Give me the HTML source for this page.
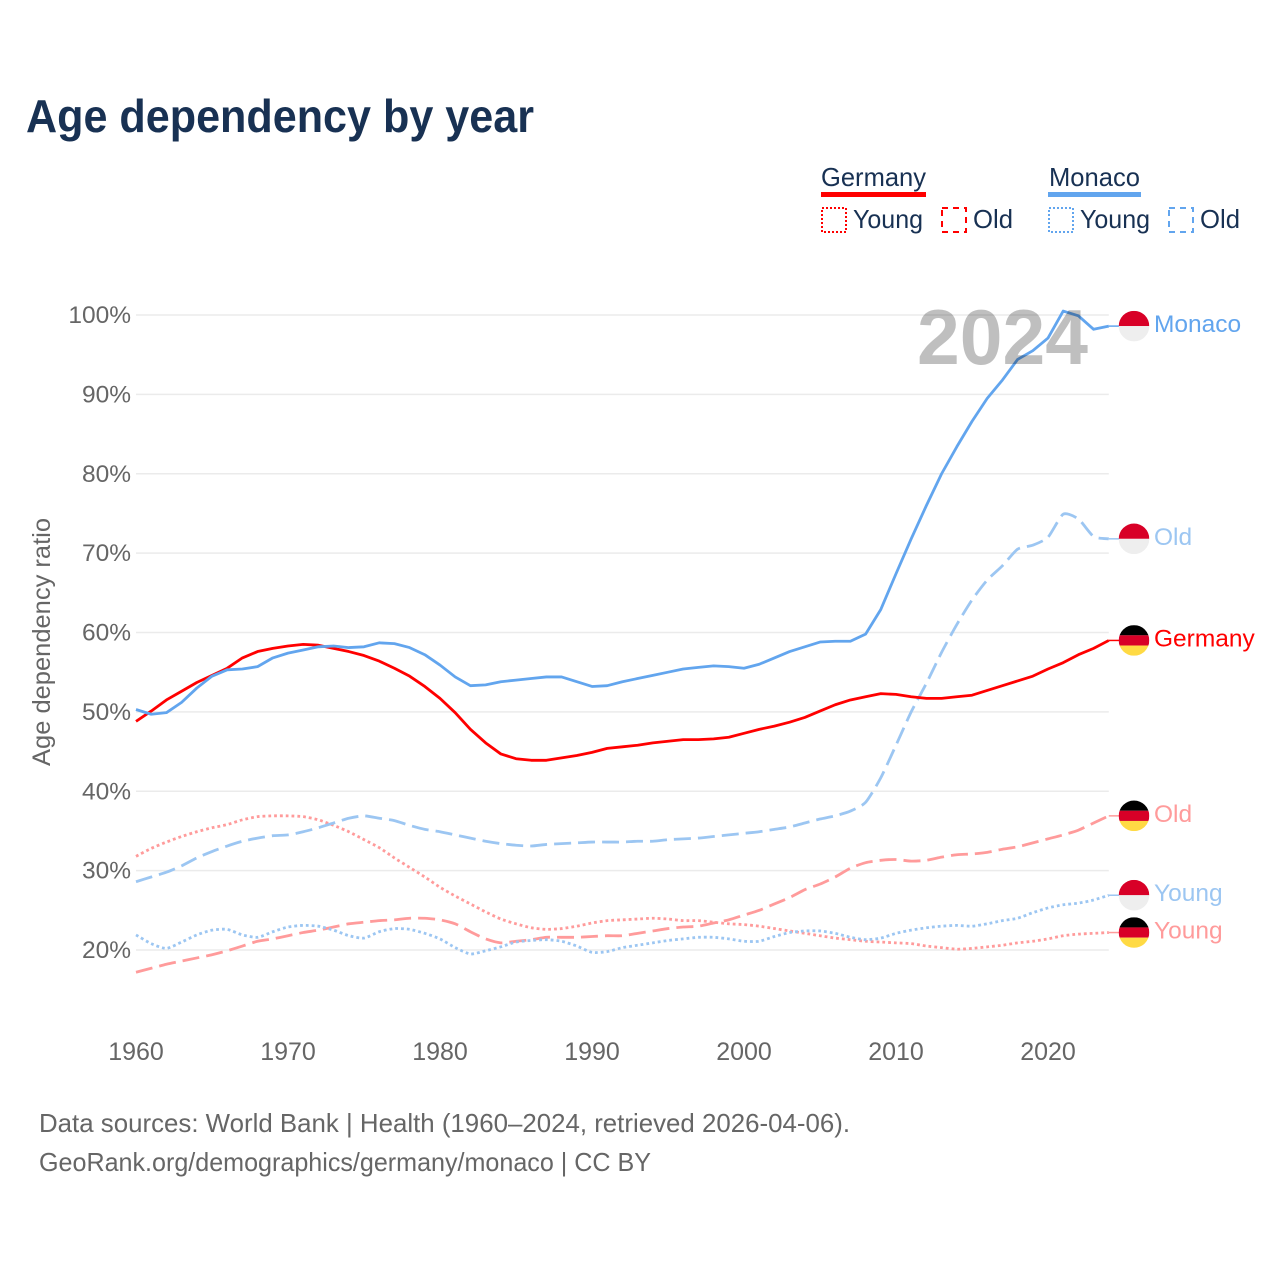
<!DOCTYPE html>
<html lang="en">
<head>
<meta charset="utf-8">
<title>Age dependency by year</title>
<style>
html,body{margin:0;padding:0;background:#fff;}
svg{display:block;font-family:"Liberation Sans",sans-serif;}
</style>
</head>
<body>
<svg id="chart" xmlns="http://www.w3.org/2000/svg" width="1280" height="1280" viewBox="0 0 1280 1280">
  <rect x="0" y="0" width="1280" height="1280" fill="#fff"/>
  <text x="26" y="132" font-size="46" font-weight="700" fill="#183153" textLength="508" lengthAdjust="spacingAndGlyphs">Age dependency by year</text>

  <g>
    <text x="821" y="186" font-size="26" fill="#183153" textLength="105" lengthAdjust="spacingAndGlyphs">Germany</text>
    <rect x="821" y="192" width="105" height="5" fill="#ff0000"/>
    <rect x="822" y="208" width="24" height="24" fill="none" stroke="#ff0000" stroke-width="2" stroke-dasharray="2 2"/>
    <text x="853" y="228" font-size="26" fill="#183153" textLength="70" lengthAdjust="spacingAndGlyphs">Young</text>
    <rect x="942" y="208" width="24" height="24" fill="none" stroke="#ff0000" stroke-width="2" stroke-dasharray="6 5"/>
    <text x="973" y="228" font-size="26" fill="#183153" textLength="40" lengthAdjust="spacingAndGlyphs">Old</text>
    <text x="1049" y="186" font-size="26" fill="#183153" textLength="91" lengthAdjust="spacingAndGlyphs">Monaco</text>
    <rect x="1048" y="192" width="93" height="5" fill="#62a5ee"/>
    <rect x="1049" y="208" width="24" height="24" fill="none" stroke="#62a5ee" stroke-width="2" stroke-dasharray="2 2"/>
    <text x="1080" y="228" font-size="26" fill="#183153" textLength="70" lengthAdjust="spacingAndGlyphs">Young</text>
    <rect x="1169" y="208" width="24" height="24" fill="none" stroke="#62a5ee" stroke-width="2" stroke-dasharray="6 5"/>
    <text x="1200" y="228" font-size="26" fill="#183153" textLength="40" lengthAdjust="spacingAndGlyphs">Old</text>
  </g>

  <g id="grid"></g>
  <g id="yticks"></g>
  <g id="xticks"></g>
  <text transform="translate(50,642) rotate(-90)" text-anchor="middle" font-size="25" fill="#666" textLength="248" lengthAdjust="spacingAndGlyphs">Age dependency ratio</text>
  <g id="series"></g>
  <g id="ends"></g>
  <text x="917" y="364" font-size="78" font-weight="700" fill="#000" fill-opacity="0.25" textLength="171" lengthAdjust="spacingAndGlyphs">2024</text>

  <text x="39" y="1132" font-size="26" fill="#666" textLength="811" lengthAdjust="spacingAndGlyphs">Data sources: World Bank | Health (1960–2024, retrieved 2026-04-06).</text>
  <text x="39" y="1171" font-size="26" fill="#666" textLength="612" lengthAdjust="spacingAndGlyphs">GeoRank.org/demographics/germany/monaco | CC BY</text>
</svg>

<script>
const startYear = 1960;
const yTickValues = [20, 30, 40, 50, 60, 70, 80, 90, 100];
const xTickYears = [1960, 1970, 1980, 1990, 2000, 2010, 2020];

const germanyTotal = [48.8,50.1,51.5,52.6,53.7,54.6,55.5,56.8,57.6,58.0,58.3,58.5,58.4,58.0,57.6,57.1,56.4,55.5,54.5,53.2,51.7,49.9,47.8,46.1,44.7,44.1,43.9,43.9,44.2,44.5,44.9,45.4,45.6,45.8,46.1,46.3,46.5,46.5,46.6,46.8,47.3,47.8,48.2,48.7,49.3,50.1,50.9,51.5,51.9,52.3,52.2,51.9,51.7,51.7,51.9,52.1,52.7,53.3,53.9,54.5,55.4,56.2,57.2,58.0,59.0];
const germanyYoung = [31.8,32.8,33.6,34.3,34.9,35.4,35.8,36.4,36.8,36.9,36.9,36.8,36.4,35.7,34.9,33.9,32.9,31.6,30.4,29.2,27.9,26.8,25.8,24.8,23.9,23.3,22.8,22.6,22.7,23.0,23.4,23.7,23.8,23.9,24.0,23.9,23.7,23.7,23.5,23.3,23.2,23.0,22.7,22.4,22.1,21.8,21.5,21.3,21.1,21.0,20.9,20.8,20.5,20.3,20.1,20.2,20.4,20.6,20.9,21.1,21.4,21.8,22.0,22.1,22.2];
const germanyOld = [17.2,17.7,18.2,18.6,19.0,19.4,19.9,20.5,21.1,21.4,21.8,22.2,22.5,22.9,23.3,23.5,23.7,23.8,24.0,24.0,23.8,23.3,22.3,21.4,20.9,21.1,21.3,21.6,21.6,21.6,21.7,21.8,21.8,22.1,22.4,22.7,22.9,23.0,23.4,23.8,24.4,25.0,25.8,26.6,27.6,28.3,29.2,30.3,31.0,31.3,31.4,31.2,31.3,31.7,32.0,32.1,32.3,32.7,33.0,33.5,34.0,34.5,35.1,36.0,36.9];
const monacoTotal = [50.3,49.7,49.9,51.2,53.0,54.5,55.3,55.4,55.7,56.8,57.4,57.8,58.2,58.3,58.1,58.2,58.7,58.6,58.1,57.2,55.9,54.4,53.3,53.4,53.8,54.0,54.2,54.4,54.4,53.8,53.2,53.3,53.8,54.2,54.6,55.0,55.4,55.6,55.8,55.7,55.5,56.0,56.8,57.6,58.2,58.8,58.9,58.9,59.8,62.9,67.4,71.8,76.0,80.0,83.4,86.6,89.5,91.8,94.4,95.5,97.1,100.5,99.9,98.2,98.6];
const monacoYoung = [21.9,20.8,20.2,21.0,21.9,22.5,22.6,21.9,21.6,22.3,22.9,23.1,23.0,22.5,21.8,21.5,22.3,22.7,22.6,22.1,21.4,20.3,19.5,19.9,20.4,21.0,21.2,21.3,21.1,20.5,19.7,19.8,20.3,20.6,20.9,21.2,21.4,21.6,21.6,21.4,21.1,21.1,21.7,22.2,22.4,22.4,22.1,21.6,21.3,21.5,22.1,22.5,22.8,23.0,23.1,23.0,23.3,23.7,24.0,24.7,25.3,25.7,25.9,26.3,26.9];
const monacoOld = [28.6,29.2,29.8,30.6,31.6,32.4,33.1,33.7,34.1,34.4,34.5,34.9,35.4,36.0,36.6,36.9,36.6,36.3,35.7,35.2,34.9,34.5,34.1,33.7,33.4,33.2,33.1,33.3,33.4,33.5,33.6,33.6,33.6,33.7,33.7,33.9,34.0,34.1,34.3,34.5,34.7,34.9,35.2,35.5,36.0,36.5,36.9,37.5,38.6,41.7,45.8,50.0,53.6,57.5,61.0,64.1,66.6,68.4,70.5,71.0,72.0,74.9,74.3,72.1,71.8];

const svgNS = 'http://www.w3.org/2000/svg';
const make = (tag, parent) => {
  const el = document.createElementNS(svgNS, tag);
  parent.appendChild(el);
  return el;
};
const xScale = year => 136 + (year - 1960) * 15.2;
const yScale = value => 950 - (value - 20) * 7.9375;

const gridGroup = document.getElementById('grid');
const yTickGroup = document.getElementById('yticks');
yTickValues.forEach(v => {
  const line = make('line', gridGroup);
  
  
  line.setAttribute('x1', 136);
  line.setAttribute('x2', xScale(2024));
  line.setAttribute('y1', yScale(v));
  line.setAttribute('y2', yScale(v));
  line.setAttribute('stroke', '#ebebeb');
  line.setAttribute('stroke-width', 1.5);
  const label = make('text', yTickGroup);
  
  
  label.setAttribute('x', 131);
  label.setAttribute('y', yScale(v) + 8);
  label.setAttribute('text-anchor', 'end');
  label.setAttribute('font-size', 24.5);
  label.setAttribute('fill', '#666');
  label.textContent = v + '%';
});

const xTickGroup = document.getElementById('xticks');
xTickYears.forEach(y => {
  const label = make('text', xTickGroup);
  
  
  label.setAttribute('x', xScale(y));
  label.setAttribute('y', 1060);
  label.setAttribute('text-anchor', 'middle');
  label.setAttribute('font-size', 25);
  label.setAttribute('fill', '#666');
  label.textContent = y;
});

function straightPath(pts) {
  return pts.map((p, i) => (i ? 'L' : 'M') + p[0].toFixed(2) + ' ' + p[1].toFixed(2)).join(' ');
}
function smoothPath(pts) {
  let d = 'M' + pts[0][0].toFixed(2) + ' ' + pts[0][1].toFixed(2);
  for (let i = 0; i < pts.length - 1; i++) {
    const p0 = pts[Math.max(i - 1, 0)], p1 = pts[i], p2 = pts[i + 1], p3 = pts[Math.min(i + 2, pts.length - 1)];
    const c1x = p1[0] + (p2[0] - p0[0]) / 9, c1y = p1[1] + (p2[1] - p0[1]) / 9;
    const c2x = p2[0] - (p3[0] - p1[0]) / 9, c2y = p2[1] - (p3[1] - p1[1]) / 9;
    d += ' C' + c1x.toFixed(2) + ' ' + c1y.toFixed(2) + ' ' + c2x.toFixed(2) + ' ' + c2y.toFixed(2) + ' ' + p2[0].toFixed(2) + ' ' + p2[1].toFixed(2);
  }
  return d;
}

const seriesList = [
  {key: 'germany-old', values: germanyOld, color: '#ff9b9b', dash: '17 7', smooth: true, label: 'Old', flag: 'de'},
  {key: 'germany-young', values: germanyYoung, color: '#ff9b9b', dash: '2.8 3', smooth: true, label: 'Young', flag: 'de'},
  {key: 'monaco-old', values: monacoOld, color: '#9cc6f2', dash: '17 7', smooth: true, label: 'Old', flag: 'mc'},
  {key: 'monaco-young', values: monacoYoung, color: '#9cc6f2', dash: '2.8 3', smooth: true, label: 'Young', flag: 'mc'},
  {key: 'germany-total', values: germanyTotal, color: '#ff0000', dash: null, smooth: false, label: 'Germany', flag: 'de'},
  {key: 'monaco-total', values: monacoTotal, color: '#62a5ee', dash: null, smooth: false, label: 'Monaco', flag: 'mc'}
];

const seriesGroup = document.getElementById('series');
const endGroup = document.getElementById('ends');
const flagCx = 1134, flagR = 15.3;

seriesList.forEach(s => {
  const pts = s.values.map((v, i) => [xScale(startYear + i), yScale(v)]);
  const path = make('path', seriesGroup);
  
  
  path.setAttribute('d', s.smooth ? smoothPath(pts) : straightPath(pts));
  path.setAttribute('fill', 'none');
  path.setAttribute('stroke', s.color);
  path.setAttribute('stroke-width', 2.8);
  path.setAttribute('stroke-linejoin', 'round');
  if (s.dash) path.setAttribute('stroke-dasharray', s.dash);

  const last = pts[pts.length - 1];
  const tail = make('line', seriesGroup);
  
  
  tail.setAttribute('x1', last[0]);
  tail.setAttribute('x2', 1119);
  tail.setAttribute('y1', last[1]);
  tail.setAttribute('y2', last[1]);
  tail.setAttribute('stroke', s.color);
  tail.setAttribute('stroke-width', 1.5);

  const cy = last[1];
  const clip = make('clipPath', endGroup);
  clip.setAttribute('id', 'clip-' + s.key);
  const clipCircle = make('circle', clip);
  clipCircle.setAttribute('cx', flagCx);
  clipCircle.setAttribute('cy', cy);
  clipCircle.setAttribute('r', flagR);

  const flag = make('g', endGroup);
  
  
  flag.setAttribute('clip-path', 'url(#clip-' + s.key + ')');
  const bands = s.flag === 'de' ? ['#000000', '#d80027', '#ffda44'] : ['#d80027', '#eeeeee'];
  const bandHeight = flagR * 2 / bands.length;
  bands.forEach((c, i) => {
    const band = make('rect', flag);
    band.setAttribute('x', flagCx - flagR);
    band.setAttribute('y', cy - flagR + i * bandHeight);
    band.setAttribute('width', flagR * 2);
    band.setAttribute('height', bandHeight);
    band.setAttribute('fill', c);
  });

  const text = make('text', endGroup);
  
  
  text.setAttribute('x', 1154);
  text.setAttribute('y', cy + 6);
  text.setAttribute('font-size', 24.5);
  text.setAttribute('fill', s.color);
  text.textContent = s.label;
});
</script>
</body>
</html>
